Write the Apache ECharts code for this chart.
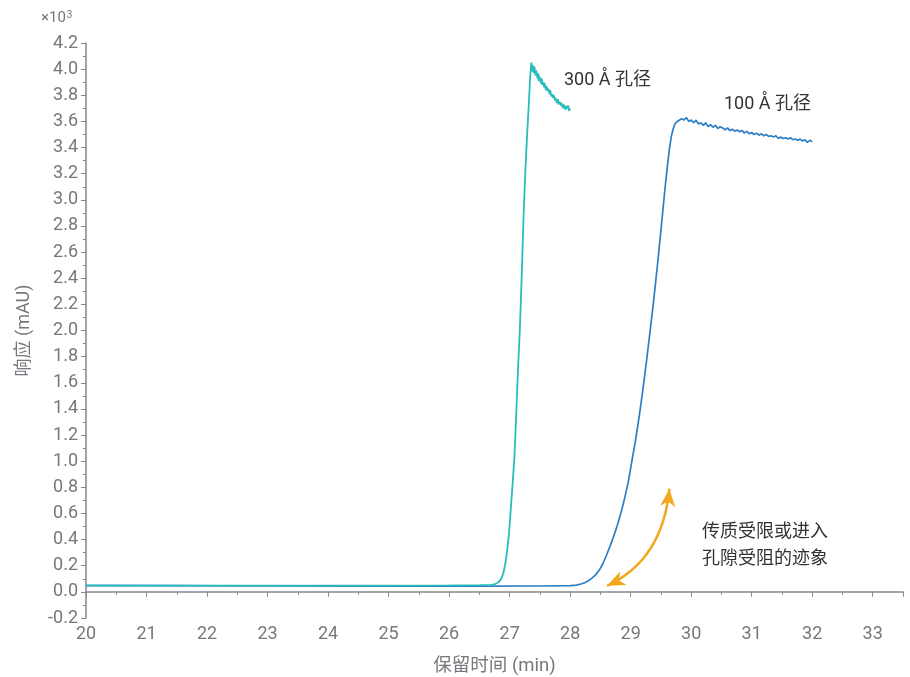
<!DOCTYPE html>
<html>
<head>
<meta charset="utf-8">
<script src="https://cdn.jsdelivr.net/npm/echarts@6/dist/echarts.min.js"></script>
<style>
  html, body { margin: 0; padding: 0; background: #fff; }
  #chart { width: 910px; height: 677px; }
</style>
</head>
<body>
<div id="chart"></div>
<script>
// Retention time (min) and response (mAU, ×10³) for the 100 Å column
var time100 = [20.0, 21.5, 23.0, 25.0, 26.5, 27.5, 28.0, 28.10, 28.18, 28.24, 28.30, 28.36, 28.42, 28.48, 28.54,
  28.60, 28.66, 28.72, 28.78, 28.84, 28.90, 28.96, 29.02, 29.08, 29.14, 29.20, 29.26, 29.32, 29.38,
  29.44, 29.49, 29.53, 29.57, 29.61, 29.64, 29.67, 29.70, 29.73, 29.77,
  29.80, 29.84, 29.88, 29.92, 29.96, 30.00, 30.04, 30.08, 30.12, 30.16, 30.20, 30.24, 30.28, 30.32,
  30.36, 30.40, 30.44, 30.48, 30.52, 30.56, 30.60, 30.64, 30.68, 30.72, 30.76, 30.80, 30.84, 30.88,
  30.92, 30.96, 31.00, 31.04, 31.08, 31.12, 31.16, 31.20, 31.24, 31.28, 31.32, 31.36, 31.40, 31.44,
  31.48, 31.52, 31.56, 31.60, 31.64, 31.68, 31.72, 31.76, 31.80, 31.84, 31.88, 31.92, 31.96, 32.00];
var resp100 = [0.048, 0.047, 0.045, 0.044, 0.044, 0.045, 0.048, 0.052, 0.060, 0.070, 0.085, 0.105, 0.13, 0.165, 0.215,
  0.28, 0.35, 0.425, 0.51, 0.605, 0.715, 0.84, 1.00, 1.16, 1.34, 1.54, 1.76, 1.99, 2.23,
  2.49, 2.72, 2.91, 3.10, 3.27, 3.39, 3.48, 3.54, 3.58, 3.60,
  3.60, 3.62, 3.61, 3.63, 3.60, 3.61, 3.59, 3.61, 3.58, 3.59, 3.57, 3.59, 3.56, 3.575,
  3.555, 3.57, 3.545, 3.56, 3.55, 3.535, 3.55, 3.53, 3.54, 3.525, 3.535, 3.52, 3.53, 3.51,
  3.525, 3.505, 3.515, 3.50, 3.51, 3.495, 3.505, 3.49, 3.50, 3.485, 3.49, 3.48, 3.49, 3.47,
  3.48, 3.47, 3.475, 3.465, 3.475, 3.46, 3.465, 3.455, 3.465, 3.45, 3.46, 3.44, 3.455, 3.445];

// Retention time (min) and response (mAU, ×10³) for the 300 Å column
var time300 = [20.0, 21.5, 23.0, 24.5, 26.0, 26.5, 26.70, 26.76, 26.80, 26.84, 26.87, 26.90, 26.93, 26.96, 26.99,
  27.02, 27.05, 27.08, 27.11, 27.14, 27.17, 27.20, 27.23, 27.26, 27.29, 27.32, 27.34, 27.36,
  27.37, 27.38, 27.39, 27.40, 27.41, 27.42, 27.43, 27.44, 27.45, 27.46, 27.47, 27.48, 27.49, 27.50,
  27.52, 27.53, 27.54, 27.56, 27.57, 27.58, 27.60, 27.61, 27.63, 27.64, 27.66, 27.67, 27.69, 27.70,
  27.72, 27.73, 27.75, 27.76, 27.78, 27.80, 27.81, 27.83, 27.85, 27.86, 27.88, 27.89, 27.91, 27.92,
  27.94, 27.95, 27.97, 27.98, 28.00];
var resp300 = [0.050, 0.048, 0.047, 0.048, 0.050, 0.052, 0.054, 0.060, 0.070, 0.085, 0.11, 0.15, 0.22, 0.32, 0.45,
  0.64, 0.83, 1.04, 1.37, 1.72, 2.02, 2.42, 2.87, 3.22, 3.51, 3.76, 3.95, 4.05,
  3.98, 4.03, 4.00, 3.97, 4.02, 3.98, 3.95, 3.99, 3.96, 3.93, 3.97, 3.91, 3.95, 3.92,
  3.89, 3.93, 3.88, 3.90, 3.86, 3.89, 3.84, 3.87, 3.83, 3.85, 3.81, 3.84, 3.79, 3.81,
  3.78, 3.80, 3.76, 3.78, 3.74, 3.77, 3.73, 3.75, 3.72, 3.74, 3.70, 3.73, 3.71, 3.69,
  3.72, 3.70, 3.72, 3.68, 3.70];

// Curved double arrow in data units: tail tip, head tip and bend control point
var arrowFrom = [28.61, 0.046];
var arrowTo = [29.64, 0.79];
var arrowBend = [29.53, 0.245];

var seriesNames = ['100 Å 孔径', '300 Å 孔径'];
var noteText = '传质受限或进入\n孔隙受阻的迹象';

function pairs(xs, ys) {
  return xs.map(function (x, i) { return [x, ys[i]]; });
}

var axisGray = '#85888c';
var labelGray = '#75787c';
var arrowColor = '#f0a81f';
var fontFam = 'Roboto, "Noto Sans CJK SC", sans-serif';

var chart = echarts.init(document.getElementById('chart'), null, { renderer: 'canvas' });
chart.setOption({
  animation: false,
  backgroundColor: '#ffffff',
  grid: { left: 86, right: 7, top: 43, bottom: 59, containLabel: false, outerBoundsMode: 'none' },
  xAxis: {
    type: 'value', min: 20, max: 33.5, interval: 1,
    name: '保留时间 (min)', nameLocation: 'middle', nameGap: 39,
    nameTextStyle: { color: labelGray, fontSize: 18.5, fontFamily: fontFam },
    axisLine: { show: true, lineStyle: { color: axisGray, width: 1.5 } },
    axisTick: { show: true, length: 5, lineStyle: { color: axisGray } },
    minorTick: { show: true, splitNumber: 2, length: 3, lineStyle: { color: axisGray } },
    axisLabel: { color: labelGray, fontSize: 18, fontFamily: fontFam, margin: 8, showMaxLabel: false,
      formatter: function (v) { return Number.isInteger(v) ? String(v) : ''; } },
    splitLine: { show: false }
  },
  yAxis: {
    type: 'value', min: -0.2, max: 4.2, interval: 0.2,
    name: '响应 (mAU)', nameLocation: 'middle', nameGap: 53, nameRotate: 90,
    nameTextStyle: { color: labelGray, fontSize: 18, fontFamily: fontFam },
    axisLine: { show: true, lineStyle: { color: axisGray, width: 1.5 } },
    axisTick: { show: true, length: 5, lineStyle: { color: axisGray } },
    minorTick: { show: true, splitNumber: 2, length: 3, lineStyle: { color: axisGray } },
    axisLabel: { color: labelGray, fontSize: 18, fontFamily: fontFam, margin: 8,
      formatter: function (v) { return v.toFixed(1); } },
    splitLine: { show: false }
  },
  series: [
    {
      name: seriesNames[0], type: 'line', data: pairs(time100, resp100),
      showSymbol: false, smooth: false,
      lineStyle: { color: '#2d7fc5', width: 1.7 }
    },
    {
      name: seriesNames[1], type: 'line', data: pairs(time300, resp300),
      showSymbol: false, smooth: false,
      lineStyle: { color: '#2bbcbc', width: 1.8 }
    }
  ]
});

// Arrowhead polygon: notched triangle with its tip at `tip`, pointing along `dir`
function arrowHead(tip, dir, len, wid, notch) {
  var m = Math.hypot(dir[0], dir[1]);
  var d = [dir[0] / m, dir[1] / m];
  var n = [-d[1], d[0]];
  return [
    tip,
    [tip[0] - d[0] * len + n[0] * wid / 2, tip[1] - d[1] * len + n[1] * wid / 2],
    [tip[0] - d[0] * (len - notch), tip[1] - d[1] * (len - notch)],
    [tip[0] - d[0] * len - n[0] * wid / 2, tip[1] - d[1] * len - n[1] * wid / 2]
  ];
}

var p1 = chart.convertToPixel({ gridIndex: 0 }, arrowFrom);
var p2 = chart.convertToPixel({ gridIndex: 0 }, arrowTo);
var cp = chart.convertToPixel({ gridIndex: 0 }, arrowBend);

chart.setOption({
  graphic: [
    { type: 'text', left: 41, top: 10,
      style: { text: '{a|×10}{b|3}', fill: labelGray, font: '15px ' + fontFam,
        rich: { a: { fontSize: 15, fill: labelGray, fontFamily: 'Roboto' },
                b: { fontSize: 10, fill: labelGray, fontFamily: 'Roboto', verticalAlign: 'top', padding: [0, 0, 6, 1] } } } },
    { type: 'text', left: 564, top: 72,
      style: { text: seriesNames[1], fill: '#333333', font: '18px ' + fontFam } },
    { type: 'text', left: 724, top: 96,
      style: { text: seriesNames[0], fill: '#333333', font: '18px ' + fontFam } },
    { type: 'text', left: 702, top: 519,
      style: { text: noteText, fill: '#333333', font: '18px ' + fontFam, lineHeight: 27 } },
    { type: 'bezierCurve', silent: true,
      shape: { x1: p1[0], y1: p1[1], x2: p2[0], y2: p2[1], cpx1: cp[0], cpy1: cp[1] },
      style: { stroke: arrowColor, lineWidth: 2.5, fill: null } },
    { type: 'polygon', silent: true,
      shape: { points: arrowHead(p2, [p2[0] - cp[0], p2[1] - cp[1]], 18, 15, 5) },
      style: { fill: arrowColor } },
    { type: 'polygon', silent: true,
      shape: { points: arrowHead(p1, [p1[0] - cp[0], p1[1] - cp[1]], 18, 15, 5) },
      style: { fill: arrowColor } }
  ]
});
</script>
</body>
</html>
